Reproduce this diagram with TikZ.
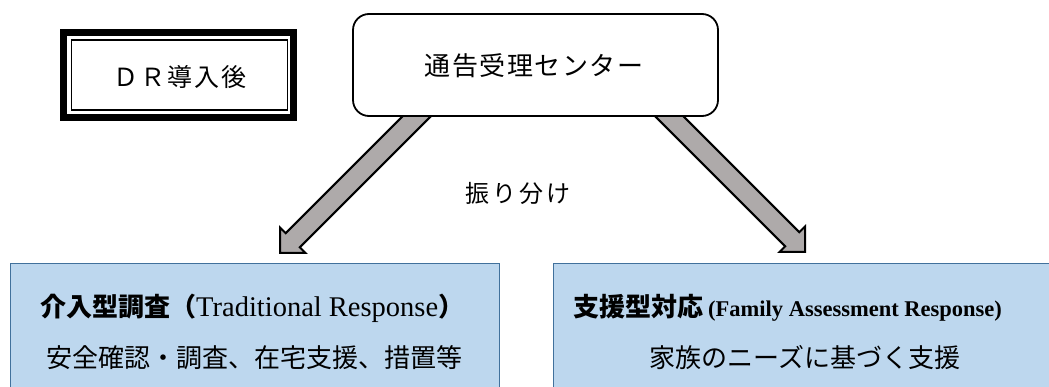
\documentclass[tikz,border=0pt]{standalone}
\usepackage{fontspec}
\setmainfont{Liberation Serif}
\newfontfamily\jp{Noto Sans CJK JP}
\usetikzlibrary{calc}
\definecolor{arrowgray}{HTML}{AEAAAA}
\definecolor{boxblue}{HTML}{BDD7EE}
\definecolor{boxedge}{HTML}{41719C}
\newcommand\fatarrow[2]{%
  \path ($(#2)!18pt!(#1)$) coordinate (fb);
  \filldraw[arrowgray, draw=black, line width=2pt, line join=miter]
    ($(#1)!10pt!90:(#2)$) -- ($(fb)!10pt!-90:(#1)$) -- ($(fb)!18pt!-90:(#1)$)
    -- (#2) -- ($(fb)!18pt!90:(#1)$) -- ($(fb)!10pt!90:(#1)$)
    -- ($(#1)!10pt!-90:(#2)$) -- cycle;}
\begin{document}
\begin{tikzpicture}[x=1pt,y=-1pt,
  jtext/.style={inner sep=0pt, font=\jp\fontsize{26}{30}\selectfont},
  bluebox/.style={fill=boxblue, draw=boxedge, line width=1pt}]
\useasboundingbox (0,0) rectangle (1049,387);
\clip (0,0) rectangle (1049,387);
% DR box
\draw[line width=7pt] (63.5,32.5) rectangle (293.5,117.5);
\draw[line width=1.8pt] (71.5,40) rectangle (287.5,110);
\node[inner sep=0pt, font=\jp\fontsize{25}{30}\selectfont] (dr) at (180,77) {Ｄ\kern2pt Ｒ\kern2pt 導\kern2pt 入\kern2pt 後};
% arrows
\coordinate (t1) at (430,103); \coordinate (h1) at (280,253);
\coordinate (t2) at (655,102); \coordinate (h2) at (805,252);
\fatarrow{t1}{h1}
\fatarrow{t2}{h2}
% center box
\node[draw, fill=white, line width=1.8pt, rounded corners=16pt, minimum width=365pt, minimum height=102pt, inner sep=0pt] (center) at (535.5,65) {};
\node[jtext, font=\jp\fontsize{26}{30}\selectfont] (centertext) at (534,66) {通\kern1.5pt 告\kern1.5pt 受\kern1.5pt 理\kern1.5pt セ\kern1.5pt ン\kern1.5pt タ\kern1.5pt ー};
\node[jtext, font=\jp\fontsize{24}{30}\selectfont] (split) at (518,193) {振\kern3pt り\kern3pt 分\kern3pt け};
% bottom boxes
\draw[bluebox] (10,263.5) rectangle (499.5,400);
\draw[bluebox] (553.5,263.5) rectangle (1070,400);
\node[anchor=west, inner sep=0pt] (l1) at (40,308) {{\jp\fontsize{26}{30}\selectfont\bfseries 介入型調査（}{\fontsize{28.5}{32}\selectfont Traditional Response}{\jp\fontsize{26}{30}\selectfont\bfseries ）}};
\node[jtext] (l2) at (254,358) {安全確認・調査、在宅支援、措置等};
\node[anchor=west, inner sep=0pt] (r1) at (573,308) {{\jp\fontsize{26}{30}\selectfont\bfseries 支援型対応}\hspace{5pt}{\fontsize{22.5}{26}\selectfont\bfseries (Family Assessment Response)}};
\node[jtext] (r2) at (805,358) {家族のニーズに基づく支援};
\end{tikzpicture}
\end{document}
